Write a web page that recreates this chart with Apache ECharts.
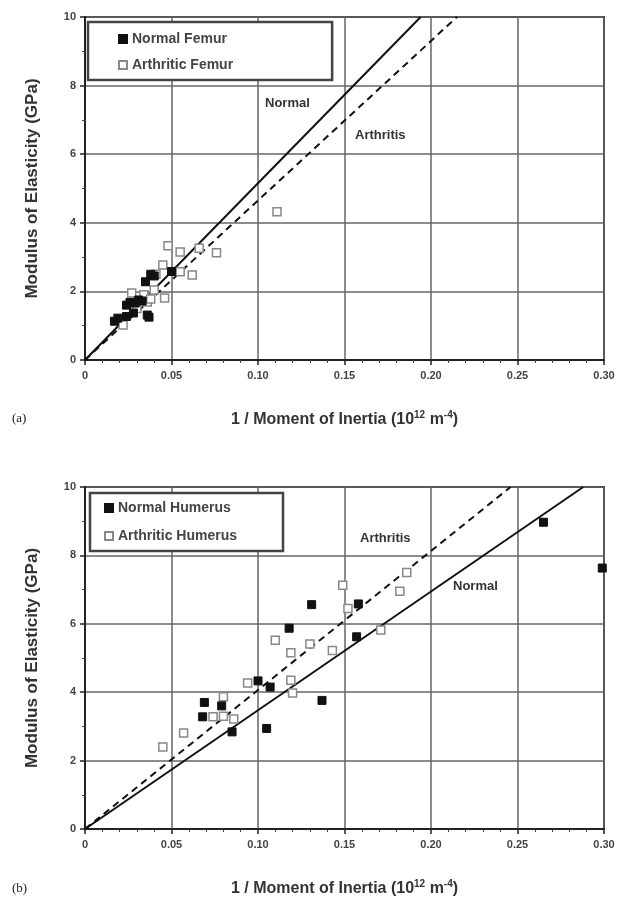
<!DOCTYPE html>
<html>
<head>
<meta charset="utf-8">
<script src="https://cdn.jsdelivr.net/npm/echarts@6/dist/echarts.min.js"></script>
<style>
  html, body { margin: 0; padding: 0; background: #fff; }
  #chart { width: 628px; height: 901px; }
</style>
</head>
<body>
<div id="chart"></div>
<script>
// x tick labels (1 / moment of inertia, 10^12 m^-4)
const xTicks = ['0', '0.05', '0.10', '0.15', '0.20', '0.25', '0.30'];

// (a) femur
const femurNormal = [
  [0.017, 1.13], [0.019, 1.22], [0.024, 1.60], [0.026, 1.68], [0.028, 1.37],
  [0.024, 1.27], [0.029, 1.66], [0.031, 1.75], [0.033, 1.72], [0.036, 1.31],
  [0.037, 1.25], [0.035, 2.28], [0.038, 2.50], [0.040, 2.45], [0.050, 2.58]
];
const femurArthritic = [
  [0.022, 1.02], [0.027, 1.95], [0.030, 1.50], [0.034, 1.90], [0.036, 1.69],
  [0.038, 1.78], [0.040, 2.04], [0.046, 1.81], [0.041, 2.50], [0.045, 2.77],
  [0.048, 3.33], [0.055, 3.15], [0.055, 2.57], [0.062, 2.48], [0.066, 3.26],
  [0.076, 3.13], [0.111, 4.32]
];
const femurNormalFit = [[0, 0], [0.194, 10]];
const femurArthriticFit = [[0, 0], [0.215, 10]];

// (b) humerus
const humerusNormal = [
  [0.069, 3.70], [0.068, 3.28], [0.079, 3.60], [0.085, 2.84], [0.100, 4.33],
  [0.107, 4.15], [0.105, 2.94], [0.118, 5.87], [0.131, 6.56], [0.137, 3.76],
  [0.158, 6.58], [0.157, 5.62], [0.265, 8.97], [0.299, 7.63]
];
const humerusArthritic = [
  [0.045, 2.40], [0.057, 2.81], [0.074, 3.28], [0.080, 3.87], [0.080, 3.30],
  [0.086, 3.22], [0.094, 4.27], [0.110, 5.52], [0.119, 5.15], [0.130, 5.41],
  [0.119, 4.35], [0.120, 3.98], [0.143, 5.22], [0.149, 7.13], [0.152, 6.45],
  [0.171, 5.82], [0.182, 6.95], [0.186, 7.50]
];
const humerusNormalFit = [[0, 0], [0.288, 10]];
const humerusArthriticFit = [[0, 0], [0.246, 10]];

const FONT = '"Liberation Sans", Arial, sans-serif';
const INK = '#333';

function xAxis(gi) {
  return {
    type: 'value', gridIndex: gi, min: 0, max: 0.3, interval: 0.05,
    name: '1 / Moment of Inertia (10{sup|12} m{sup|-4})',
    nameLocation: 'middle', nameGap: 50,
    nameTextStyle: {
      fontFamily: FONT, fontSize: 16, fontWeight: 'bold', color: INK,
      rich: { sup: { fontFamily: FONT, fontSize: 10, fontWeight: 'bold', color: INK, padding: [0, 0, 9, 0] } }
    },
    axisLine: { show: true, lineStyle: { color: '#222', width: 2 } },
    axisTick: { show: true, length: 5, lineStyle: { color: '#222', width: 1.5 } },
    minorTick: { show: true, splitNumber: 5, length: 3, lineStyle: { color: '#444' } },
    axisLabel: {
      margin: 10, fontFamily: FONT, fontSize: 11, fontWeight: 'bold', color: '#444',
      formatter: v => xTicks[Math.round(v / 0.05)]
    },
    splitLine: { show: true, lineStyle: { color: '#666', width: 1.5 } }
  };
}

function yAxis(gi) {
  return {
    type: 'value', gridIndex: gi, min: 0, max: 10, interval: 2,
    name: 'Modulus of Elasticity (GPa)',
    nameLocation: 'middle', nameGap: 44,
    nameTextStyle: { fontFamily: FONT, fontSize: 17, fontWeight: 'bold', color: INK },
    axisLine: { show: true, lineStyle: { color: '#222', width: 2 } },
    axisTick: { show: true, length: 5, lineStyle: { color: '#222', width: 1.5 } },
    minorTick: { show: true, splitNumber: 2, length: 3, lineStyle: { color: '#444' } },
    axisLabel: { margin: 9, fontFamily: FONT, fontSize: 11, fontWeight: 'bold', color: '#444' },
    splitLine: { show: true, lineStyle: { color: '#666', width: 1.5 } }
  };
}

function filled(name, data, gi) {
  return {
    name, type: 'scatter', xAxisIndex: gi, yAxisIndex: gi, data,
    symbol: 'rect', symbolSize: 8, z: 5,
    itemStyle: { color: '#111', borderColor: '#111', borderWidth: 1, opacity: 1 }
  };
}
function open(name, data, gi) {
  return {
    name, type: 'scatter', xAxisIndex: gi, yAxisIndex: gi, data,
    symbol: 'rect', symbolSize: 8, z: 4,
    itemStyle: { color: '#fff', borderColor: '#888', borderWidth: 1.5, opacity: 1 }
  };
}
function fit(data, gi, dashed) {
  return {
    type: 'line', xAxisIndex: gi, yAxisIndex: gi, data,
    symbol: 'none', silent: true, z: 3,
    lineStyle: { color: '#111', width: 2, type: dashed ? [7, 5] : 'solid' }
  };
}

function legend(names, left, top, padding, gap) {
  return {
    data: names, orient: 'vertical', left, top, padding, itemGap: gap,
    itemWidth: 8, itemHeight: 8,
    borderColor: '#444', borderWidth: 2.5, backgroundColor: '#fff',
    textStyle: { fontFamily: FONT, fontSize: 14, fontWeight: 'bold', color: '#444' }
  };
}

function note(text, x, y) {
  return {
    type: 'text', left: x, top: y,
    style: { text, font: 'bold 13px ' + FONT, fill: INK }
  };
}

const option = {
  backgroundColor: '#fff',
  animation: false,
  grid: [
    { left: 85, top: 17, width: 519, height: 343, show: true, borderColor: '#333', borderWidth: 2 },
    { left: 85, top: 487, width: 519, height: 342, show: true, borderColor: '#333', borderWidth: 2 }
  ],
  xAxis: [xAxis(0), xAxis(1)],
  yAxis: [yAxis(0), yAxis(1)],
  legend: [
    legend(['Normal Femur', 'Arthritic Femur'], 88, 22, [10, 99, 8, 30], 12),
    legend(['Normal Humerus', 'Arthritic Humerus'], 90, 493, [8, 46, 8, 14], 14)
  ],
  series: [
    fit(femurNormalFit, 0, false),
    fit(femurArthriticFit, 0, true),
    open('Arthritic Femur', femurArthritic, 0),
    filled('Normal Femur', femurNormal, 0),
    fit(humerusNormalFit, 1, false),
    fit(humerusArthriticFit, 1, true),
    open('Arthritic Humerus', humerusArthritic, 1),
    filled('Normal Humerus', humerusNormal, 1)
  ],
  graphic: [
    note('Normal', 265, 97),
    note('Arthritis', 355, 129),
    note('Arthritis', 360, 532),
    note('Normal', 453, 580),
    { type: 'text', left: 12, top: 412, style: { text: '(a)', font: '13px "Liberation Serif", serif', fill: '#222' } },
    { type: 'text', left: 12, top: 882, style: { text: '(b)', font: '13px "Liberation Serif", serif', fill: '#222' } }
  ]
};

const myChart = echarts.init(document.getElementById('chart'));
myChart.setOption(option);
</script>
</body>
</html>
